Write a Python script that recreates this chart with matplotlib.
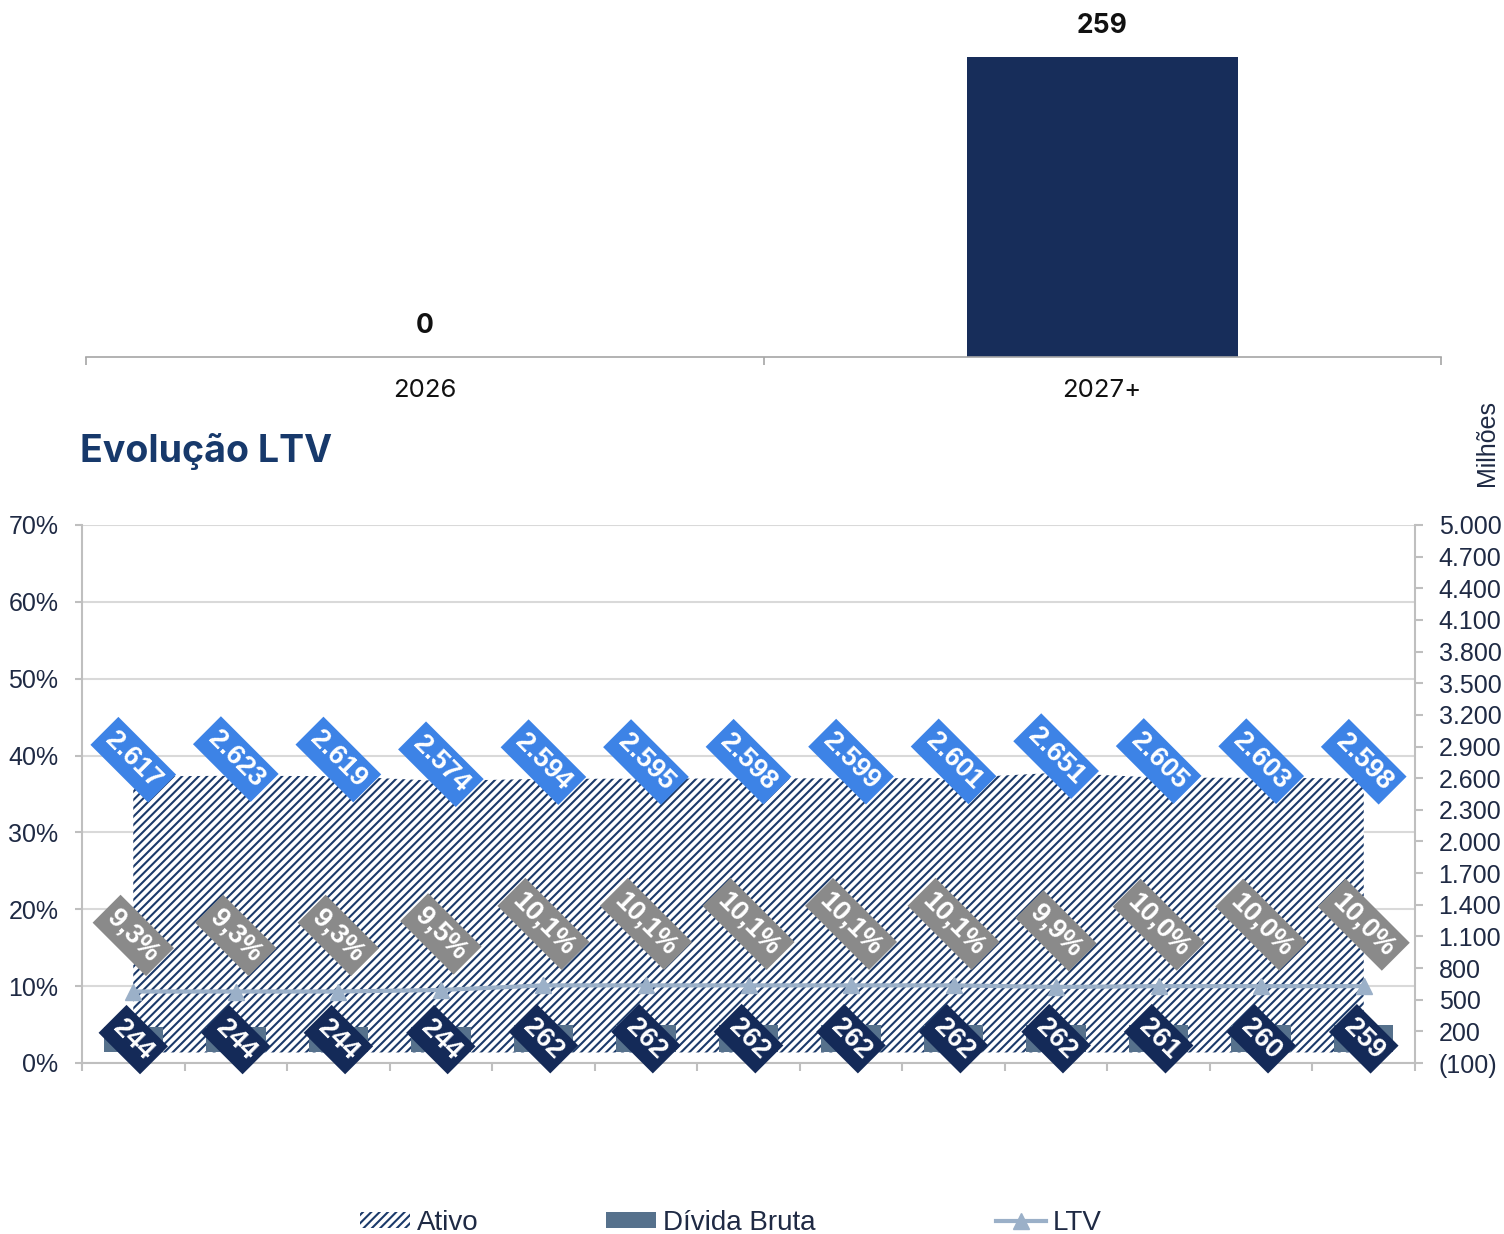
import numpy as np
import matplotlib
matplotlib.use('Agg')
import matplotlib.pyplot as plt
from matplotlib.patches import Patch
from matplotlib.lines import Line2D
from matplotlib.ticker import FuncFormatter

# ---------------- data ----------------
maturity_years = ['2026', '2027+']
maturity_values = [0, 259]

ativo = [2617, 2623, 2619, 2574, 2594, 2595, 2598, 2599, 2601, 2651, 2605, 2603, 2598]
divida_bruta = [244, 244, 244, 244, 262, 262, 262, 262, 262, 262, 261, 260, 259]
ltv = [9.3, 9.3, 9.3, 9.5, 10.1, 10.1, 10.1, 10.1, 10.1, 9.9, 10.0, 10.0, 10.0]

ltv_ticks = [0, 10, 20, 30, 40, 50, 60, 70]
milhoes_ticks = list(range(-100, 5001, 300))

# ---------------- styles ----------------
W, H = 1504, 1234
NAVY = '#172d5a'
HATCH = '#1b3a6a'
BAR = '#56718c'
LINE = '#9bb0c8'
BLUE_LBL = '#3d83e6'
GRAY_LBL = '#8a8a8a'
NAVY_LBL = '#142a58'
TXT = '#1f2a44'
AXC = '#bfbfbf'
ARIAL = 'Liberation Sans'

plt.rcParams['hatch.linewidth'] = 1.5
plt.rcParams['font.family'] = [ARIAL, 'DejaVu Sans']

fig = plt.figure(figsize=(W / 100, H / 100), dpi=100)


def fx(px):
    return px / W


def fy(py):
    return 1 - py / H


# ---------------- top chart ----------------
axt = fig.add_axes([fx(86), fy(357), fx(1441) - fx(86), fy(57) - fy(357)])
xt = np.arange(len(maturity_years))
axt.bar(xt, maturity_values, width=0.4, color=NAVY)
axt.set_xlim(-0.5, len(xt) - 0.5)
axt.set_ylim(0, max(maturity_values))
for s in ['top', 'left', 'right']:
    axt.spines[s].set_visible(False)
axt.spines['bottom'].set_color('#a6a6a6')
axt.spines['bottom'].set_linewidth(1.2)
axt.set_yticks([])
axt.set_xticks(xt)
axt.set_xticklabels(maturity_years, family=['Inter', 'DejaVu Sans'], fontsize=18.5, color='#111111')
axt.tick_params(axis='x', which='major', length=0, pad=16)
axt.set_xticks(np.arange(-0.5, len(xt)), minor=True)
axt.tick_params(axis='x', which='minor', length=6, color='#a6a6a6', width=1.2)
for xi, v in zip(xt, maturity_values):
    axt.annotate(f'{v}', (xi, v), xytext=(0, 13), textcoords='offset points',
                 ha='center', va='bottom', fontsize=19, fontweight='bold',
                 family=['Inter', 'DejaVu Sans'], color='#111111', annotation_clip=False)

# ---------------- title ----------------
fig.text(fx(80), fy(452), 'Evolução LTV', fontsize=27, fontweight='bold',
         family=['Inter', 'DejaVu Sans'], color='#17396b', ha='left', va='center')

# ---------------- bottom chart ----------------
ax = fig.add_axes([fx(82), fy(1063), fx(1415) - fx(82), fy(525) - fy(1063)])
ax2 = ax.twinx()
x = np.arange(len(ativo))

ax.set_xlim(-0.5, len(x) - 0.5)
ax.set_ylim(ltv_ticks[0], ltv_ticks[-1])
ax.set_yticks(ltv_ticks)
ax.yaxis.set_major_formatter(FuncFormatter(lambda v, p: f'{v:.0f}%'))
ax.grid(axis='y', color='#d9d9d9', lw=1.5)
ax.set_axisbelow(True)
ax.set_xticks(np.arange(-0.5, len(x)))
ax.set_xticklabels([])
ax.tick_params(axis='x', length=6, color=AXC, width=1.5)
ax.tick_params(axis='y', length=5, color=AXC, width=1.5, pad=12,
               labelsize=18, labelcolor=TXT)
for s in ['top', 'right']:
    ax.spines[s].set_visible(False)
for s in ['left', 'bottom']:
    ax.spines[s].set_color(AXC)
    ax.spines[s].set_linewidth(1.5)

# area (Ativo)
ax2.fill_between(x, 0, ativo, facecolor='white', edgecolor=HATCH, hatch='////',
                 linewidth=0, zorder=1)
# bars (Dívida Bruta)
ax2.bar(x, divida_bruta, width=0.58, color=BAR, zorder=2)
# LTV line on primary scale
ax2.plot(x, ltv, transform=ax.transData, color=LINE, lw=3, marker='^', ms=12,
         zorder=3, clip_on=False)

ax2.set_autoscale_on(False)
ax2.set_ylim(milhoes_ticks[0], milhoes_ticks[-1])
ax2.set_yticks(milhoes_ticks)


def fmt_mil(v, p):
    if v < 0:
        return '(' + f'{abs(v):,.0f}'.replace(',', '.') + ')'
    return f'{v:,.0f}'.replace(',', '.')


ax2.yaxis.set_major_formatter(FuncFormatter(fmt_mil))
ax2.tick_params(axis='y', length=6, color=AXC, width=1.5, pad=11,
                labelsize=18, labelcolor=TXT)
for s in ['top', 'left', 'bottom']:
    ax2.spines[s].set_visible(False)
ax2.spines['right'].set_color(AXC)
ax2.spines['right'].set_linewidth(1.5)
ax.set_xlim(-0.5, len(x) - 0.5)

lbl_kw = dict(textcoords='offset points', ha='center', rotation=-45,
              color='white', fontsize=19.5, fontweight='bold', zorder=10,
              annotation_clip=False)

for xi, v in zip(x, ativo):
    ax2.annotate(f'{v:,}'.replace(',', '.'), (xi, v), xytext=(0, 12), va='center',
                 bbox=dict(boxstyle='square,pad=0.25', fc=BLUE_LBL, ec='none'), **lbl_kw)

for xi, v in zip(x, ltv):
    ax2.annotate(f'{v:.1f}'.replace('.', ',') + '%', (xi, v), xycoords=ax.transData,
                 xytext=(0, 18), va='bottom',
                 bbox=dict(boxstyle='square,pad=0.25', fc=GRAY_LBL, ec='none'), **lbl_kw)

for xi, v in zip(x, divida_bruta):
    ax2.annotate(f'{v}', (xi, v / 2), xytext=(0, 0), va='center',
                 bbox=dict(boxstyle='square,pad=0.25', fc=NAVY_LBL, ec='none'), **lbl_kw)

fig.text(fx(1487), fy(443), 'Milhões', rotation=90, ha='center', va='center',
         fontsize=18, color=TXT)

# ---------------- legend ----------------
leg_prop = dict(family=[ARIAL, 'DejaVu Sans'], size=20)
h1 = Patch(facecolor='white', edgecolor=HATCH, hatch='////', linewidth=0)
h2 = Patch(facecolor=BAR, linewidth=0)
h3 = Line2D([], [], color=LINE, lw=3, marker='^', ms=11)
for h, lab, px in [(h1, 'Ativo', 360), (h2, 'Dívida Bruta', 606), (h3, 'LTV', 996)]:
    fig.legend([h], [lab], loc='center left', bbox_to_anchor=(fx(px), fy(1223)),
               frameon=False, prop=leg_prop, handlelength=1.8, handleheight=0.5,
               handletextpad=0.25, borderpad=0, borderaxespad=0, labelcolor=TXT)

fig.savefig('out.png', dpi=100)
